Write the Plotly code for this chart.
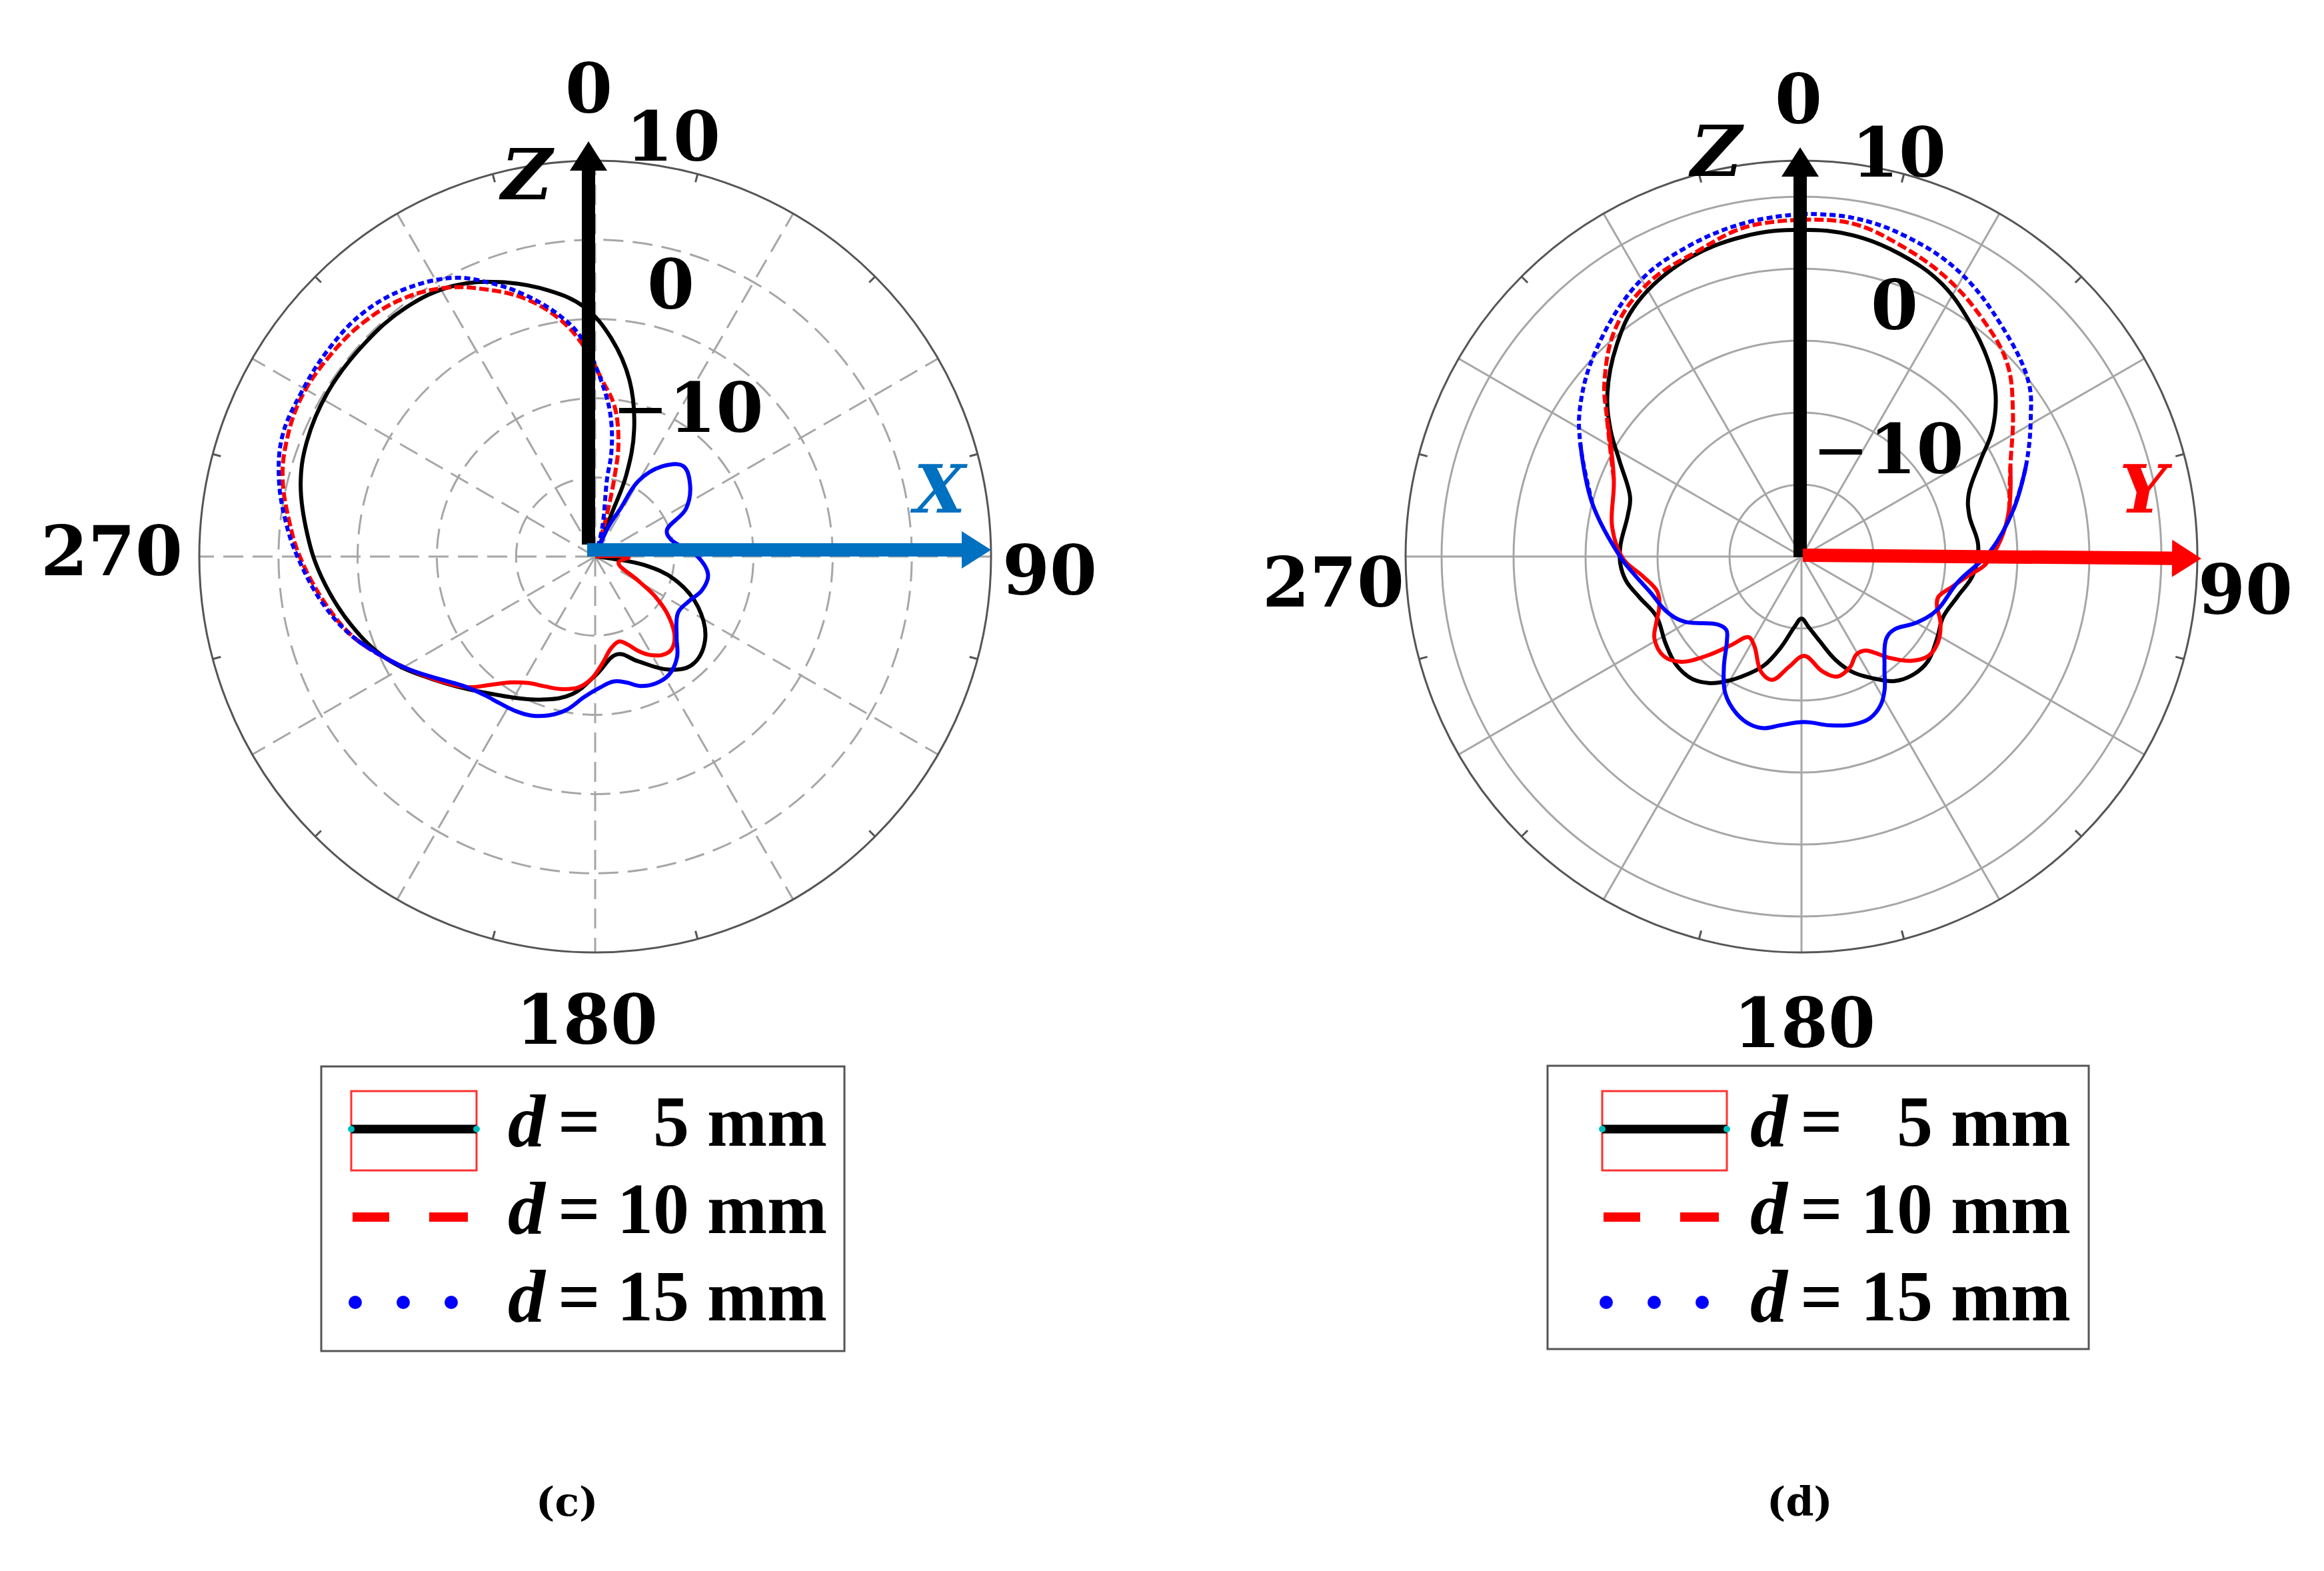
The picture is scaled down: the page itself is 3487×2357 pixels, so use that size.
# Radiation patterns, panels (c) and (d): gain in dB against angle in degrees
import plotly.graph_objects as go

W, H = 3487, 2357
PAGE_MARGIN = 8  # the page body pushes the figure in by this much

# panel (c), XZ plane
c_black_theta = [15, 21, 20.9, 17, 11, 4.2, 357.5, 350.1, 341, 332.3, 322.7, 312.5, 301.5, 291.7, 283.8, 274.6,
                 265.9, 254.3, 243.8, 232.4, 219.6, 200.2, 189.4, 179.4, 167.3, 157.7, 147.1, 138.2, 127.3, 116,
                 106, 99.9, 97.3, 95]
c_black_db = [-23.3, -19.6, -16.0, -12.1, -8.2, -4.9, -2.3, -0.6, 1.1, 2.4, 3.0, 3.1, 3.1, 2.8, 2.2, 1.0,
              -0.2, -2.0, -3.8, -6.3, -8.5, -10.5, -11.6, -13.4, -14.9, -13.8, -12.0, -11.1, -11.7, -13.7,
              -16.4, -19.1, -21.7, -23.3]
c_red_theta = [90, 91, 104.8, 119.2, 123.8, 129.3, 135.4, 140.9, 145.7, 151.3, 155.5, 160.1, 164.3, 170.1, 176.2,
               181.9, 187.5, 194.8, 201.4, 207.7, 213.7, 219.6, 224.6, 239.6, 250.6, 259.4, 269.8, 276.6, 284.1,
               290.4, 298.2, 306.4, 315.3, 323.7, 331.2, 337.2, 344.7, 351.7, 357.1, 2.3, 7.2, 11.5, 13.7, 15.9, 17]
c_red_db = [-23.3, -20.5, -21.3, -19.2, -17.2, -15.3, -13.8, -13.2, -13.3, -13.9, -14.6, -15.5, -15.9, -15.5, -14.3,
            -13.0, -12.2, -11.8, -11.6, -11.3, -10.6, -9.3, -7.9, -4.8, -2.1, -0.4, 1.5, 2.6, 3.8,
            4.4, 4.8, 4.7, 4.4, 3.7, 2.5, 1.1, -0.8, -3.2, -5.7, -8.5, -10.5, -13.5, -16.5, -20.2, -23.3]
c_blue_theta = [22, 24, 27.8, 29.8, 36.5, 44.2, 52.8, 62.3, 69.9, 77.2, 90, 99.2, 107.5, 115.6, 124.1, 134.6, 140.9,
                148, 154.6, 160.9, 166, 171.7, 177.8, 184.3, 190.6, 196.3, 202, 207.2, 212.9, 218.7, 224.6,
                239.6, 250.6, 259.5, 269.8, 276.5, 283.9, 291.2, 299.1, 307.7, 316.4, 324.6, 333, 338.8, 344.9,
                351.8, 356.4, 3.5, 6.9, 8.9, 8.7, 13.7, 15]
c_blue_db = [-23.3, -20.6, -18.8, -16.0, -13.9, -12.7, -13.3, -14.7, -16.9, -16.8, -14.7, -13.7, -13.9, -14.6, -14.9, -13.7, -12.4,
             -11.6, -11.5, -11.8, -12.4, -12.7, -12.3, -11.5, -10.2, -9.4, -8.9, -8.7, -8.6, -8.4, -7.9,
             -4.8, -2.1, -0.2, 1.7, 2.9, 4.1, 4.9, 5.0, 5.1, 5.0, 4.3, 3.0, 1.4, -0.5,
             -2.9, -4.9, -9.5, -12.0, -14.6, -16.7, -20.8, -23.3]

# panel (d), YZ plane
d_black_theta = [0, 9, 18, 27.3, 36.6, 44.2, 50, 56.5, 61.8, 69.5, 76.1, 86.4, 95.9, 104.3, 113, 121.1, 129.6, 136.3,
                 143.2, 149, 156, 161.6, 167.9, 174.4, 180, 185.6, 192.9, 199, 206.4, 212.2, 216.3, 221.9, 229.3,
                 237.5, 247.6, 255.8, 262.1, 267.9, 273.5, 283.4, 289.1, 297.8, 303.5, 310, 318.8, 327.1, 338.6, 350, 360]
d_black_db = [2.7, 2.6, 2.1, 1.3, -0.1, -1.3, -2.4, -4.1, -5.9, -7.6, -8.0, -7.7, -8.0, -8.8, -9.3, -9.0, -8.6, -8.7,
              -9.2, -10.1, -11.2, -12.4, -14.0, -15.1, -15.7, -15.1, -13.5, -12.0, -10.7, -9.7, -9.1, -8.6, -8.5,
              -8.8, -9.1, -8.4, -7.7, -7.4, -7.4, -7.6, -7.4, -5.7, -4.1, -2.4, -0.5, 1.0, 2.1, 2.6, 2.7]
d_red_theta = [0, 8.7, 17.5, 27.7, 37.7, 46.8, 55.6, 66.7, 77.1, 85.1, 92.4, 96.4, 101.2, 106.6, 109.8, 115.5, 122.2,
               128, 133.6, 139.1, 142.7, 145.7, 150.7, 156.4, 163.3, 169.7, 178.4, 186.4, 193.3, 199.2, 208, 213.3,
               218.6, 223.3, 228.8, 234, 240.8, 245.4, 250.3, 256.2, 262.9, 269.3, 278.7, 292.4, 305.5, 311.6, 321.1,
               331, 341.1, 350.2, 360]
d_red_db = [3.4, 3.4, 2.7, 1.8, 0.7, -0.4, -2.2, -4.2, -5.2, -6.1, -7.2, -8.3, -9.3, -10.1, -10.0, -9.3, -8.8,
            -8.8, -9.5, -10.7, -11.6, -12.1, -12.2, -11.6, -11.3, -11.9, -13.1, -12.3, -11.2, -11.5, -13.0, -13.3,
            -12.1, -10.6, -8.9, -8.2, -8.3, -8.9, -9.5, -9.7, -8.9, -7.6, -6.7, -5.9, -3.4, -1.7, 0.5,
            1.8, 2.4, 3.2, 3.4]
d_blue_theta = [0, 8.5, 18, 29.1, 41.1, 52.4, 58.9, 68.1, 77.4, 88.5, 99.3, 111.8, 120, 128.2, 134.1, 143.1, 148, 152,
                157.2, 163.1, 170.2, 179.1, 187, 192.3, 196.9, 202.5, 209, 215, 221.6, 225.6, 231, 240.9, 247.6,
                256.8, 264, 270, 284.3, 297.3, 304.3, 314.9, 328.9, 339.3, 350.3, 360]
d_blue_db = [3.8, 3.8, 3.4, 2.6, 1.2, -0.1, -1.4, -3.2, -4.9, -6.9, -9.0, -9.9, -10.8, -11.8, -11.8, -10.4, -9.1, -8.3,
             -7.8, -7.8, -8.1, -8.5, -8.2, -7.8, -7.8, -8.2, -9.1, -10.6, -12.2, -12.7, -12.5, -10.7, -9.9,
             -9.2, -8.3, -7.4, -5.0, -2.7, -1.4, 0.2, 2.1, 2.9, 3.5, 3.8]

spoke_angles = [0, 30, 60, 90, 120, 150, 180, 210, 240, 270, 300, 330]
tick_angles = [15, 45, 75, 105, 135, 165, 195, 225, 255, 285, 315, 345]
c_rings = [-16.67, -10, -3.33, 3.33]
c_range = [-23.33, 10]
d_rings = [-15, -10, -5, 0, 5]
d_range = [-20, 7.5]
legend_names = ["5 mm", "10 mm", "15 mm"]

SERIF = "Liberation Serif"
WIDE_SERIF = "DejaVu Serif"
BLACK, RED, BLUE = "#000000", "#FF0000", "#0000FF"
LINE = dict(width=6, shape="spline", smoothing=1.1)


def px(x):
    return (x - PAGE_MARGIN) / W


def py(y):
    return 1 - (y - PAGE_MARGIN) / H


fig = go.Figure()


def dash_split(theta, db, start, stop):
    # the upper part of the red and blue curves is drawn dashed, the rest looks solid
    on = [t >= start or t <= stop for t in theta]
    solid, dashed = [], []
    for i, v in enumerate(db):
        near = on[max(i - 1, 0):i + 2]
        solid.append(v if not all(near) else None)
        dashed.append(v if any(near) else None)
    return solid, dashed


def add_curve(sub, theta, db, color, pattern=None, start=0, stop=0):
    if pattern is None:
        fig.add_trace(go.Scatterpolar(theta=theta, r=db, subplot=sub, mode="lines", showlegend=False,
                                      line=dict(color=color, **LINE)))
        return
    solid, dashed = dash_split(theta, db, start, stop)
    fig.add_trace(go.Scatterpolar(theta=theta, r=solid, subplot=sub, mode="lines", showlegend=False,
                                  line=dict(color=color, **LINE)))
    fig.add_trace(go.Scatterpolar(theta=theta, r=dashed, subplot=sub, mode="lines", showlegend=False,
                                  line=dict(color=color, dash=pattern, **LINE)))


def add_outer_ticks(sub, top, length):
    theta, r = [], []
    for a in tick_angles:
        theta += [a, a, None]
        r += [top, top - length, None]
    fig.add_trace(go.Scatterpolar(theta=theta, r=r, subplot=sub, mode="lines", showlegend=False,
                                  line=dict(color="#555555", width=3)))


add_outer_ticks("polar", c_range[1], 0.7)
add_curve("polar", c_black_theta, c_black_db, BLACK)
add_curve("polar", c_red_theta, c_red_db, RED, "14px,5px", 250, 20)
add_curve("polar", c_blue_theta, c_blue_db, BLUE, "9px,5px", 250, 20)

add_outer_ticks("polar2", d_range[1], 0.6)
add_curve("polar2", d_black_theta, d_black_db, BLACK)
add_curve("polar2", d_red_theta, d_red_db, RED, "14px,5px", 300, 70)
add_curve("polar2", d_blue_theta, d_blue_db, BLUE, "9px,5px", 290, 70)


def polar_layout(cx, cy, R, rings, rng, griddash, gridcolor):
    return dict(
        domain=dict(x=[px(cx - R), px(cx + R)], y=[py(cy + R), py(cy - R)]),
        bgcolor="white",
        radialaxis=dict(range=rng, tickvals=rings, showticklabels=False, ticks="", showline=False,
                        gridcolor=gridcolor, gridwidth=3, griddash=griddash),
        angularaxis=dict(rotation=90, direction="clockwise", tickvals=spoke_angles, showticklabels=False,
                         ticks="", showline=True, linecolor="#555555", linewidth=3,
                         gridcolor=gridcolor, gridwidth=3, griddash=griddash),
    )


shapes = []


def arrow(x0, y0, x1, y1, color, shaft=20, head_w=56, head_l=44):
    # shaft plus triangular head, pixel positions of the page
    dx, dy = x1 - x0, y1 - y0
    n = (dx ** 2 + dy ** 2) ** 0.5
    ux, uy = dx / n, dy / n
    nx, ny = -uy, ux
    bx, by = x1 - ux * head_l, y1 - uy * head_l
    pts = [(x0 + nx * shaft / 2, y0 + ny * shaft / 2), (bx + nx * shaft / 2, by + ny * shaft / 2),
           (bx + nx * head_w / 2, by + ny * head_w / 2), (x1, y1),
           (bx - nx * head_w / 2, by - ny * head_w / 2), (bx - nx * shaft / 2, by - ny * shaft / 2),
           (x0 - nx * shaft / 2, y0 - ny * shaft / 2)]
    path = "M" + " L".join(f"{px(a):.5f},{py(b):.5f}" for a, b in pts) + " Z"
    shapes.append(dict(type="path", path=path, xref="paper", yref="paper", fillcolor=color, line=dict(width=0)))


def rect(x0, y0, x1, y1, color, width):
    shapes.append(dict(type="rect", xref="paper", yref="paper", x0=px(x0), x1=px(x1), y0=py(y0), y1=py(y1),
                       line=dict(color=color, width=width), fillcolor="rgba(0,0,0,0)"))


def hline(x0, x1, y, color, width):
    shapes.append(dict(type="line", xref="paper", yref="paper", x0=px(x0), x1=px(x1), y0=py(y), y1=py(y),
                       line=dict(color=color, width=width)))


def dot(x, y, r, color):
    shapes.append(dict(type="circle", xref="paper", yref="paper", x0=px(x - r), x1=px(x + r), y0=py(y + r),
                       y1=py(y - r), line=dict(width=0), fillcolor=color))


annotations = []


def label(text, x, y, size, color=BLACK, anchor="center", family=WIDE_SERIF):
    annotations.append(dict(text=text, x=px(x), y=py(y), xref="paper", yref="paper", showarrow=False,
                            xanchor=anchor, yanchor="middle", font=dict(family=family, size=size, color=color)))


def legend_box(box, sample_x, sample_end, eq_x, d_x, val_x):
    rect(box[0], box[1], box[2], box[3], "#555555", 3)
    rect(sample_x, 1637, sample_end, 1756, "#FF3030", 3)
    hline(sample_x, sample_end, 1694, BLACK, 13)
    dot(sample_x, 1694, 5, "#00BFBF")
    dot(sample_end, 1694, 5, "#00BFBF")
    hline(sample_x + 2, sample_x + 57, 1826, RED, 14)
    hline(sample_x + 117, sample_x + 175, 1826, RED, 14)
    for off in (6, 78, 150):
        dot(sample_x + off, 1954, 10, BLUE)
    for name, y in zip(legend_names, (1682, 1813, 1945)):
        label("<b><i>d</i></b>", d_x, y, 112, anchor="left", family=SERIF)
        label("<b>=</b>", eq_x, y, 112, family=SERIF)
        label(f"<b>{name}</b>", val_x + 2, y, 108, anchor="right", family=SERIF)


arrow(883, 817, 883, 212, BLACK)
arrow(881, 825, 1487, 825, "#0070C0")
arrow(2701, 836, 2701, 221, BLACK)
arrow(2705, 833, 3303, 838, RED)

legend_box((482, 1600, 1267, 2027), 527, 715, 869, 760, 1241)
legend_box((2322, 1599, 3134, 2024), 2404, 2591, 2733, 2624, 3107)

label("<b>0</b>", 883, 133, 102)
label("<b>10</b>", 1010, 205, 102)
label("<b><i>Z</i></b>", 790, 262, 105)
label("<b>0</b>", 1007, 427, 102)
label("−<b>10</b>", 1031, 612, 102)
label("<b><i>X</i></b>", 1408, 734, 100, color="#0070C0")
label("<b>90</b>", 1575, 856, 102)
label("<b>270</b>", 167, 827, 102)
label("<b>180</b>", 881, 1530, 102)
label("<b>(c)</b>", 850, 2253, 60)

label("<b>0</b>", 2698, 149, 102)
label("<b>10</b>", 2849, 229, 102)
label("<b><i>Z</i></b>", 2575, 227, 105)
label("<b>0</b>", 2842, 458, 102)
label("−<b>10</b>", 2832, 674, 102)
label("<b><i>Y</i></b>", 3220, 734, 100, color=RED)
label("<b>90</b>", 3369, 885, 102)
label("<b>270</b>", 2000, 874, 102)
label("<b>180</b>", 2707, 1535, 102)
label("<b>(d)</b>", 2700, 2253, 60)

fig.update_layout(
    width=W,
    height=H,
    margin=dict(l=0, r=0, t=0, b=0),
    paper_bgcolor="white",
    showlegend=False,
    polar=polar_layout(893, 835, 594, c_rings, c_range, "30px,14px", "#A6A6A6"),
    polar2=polar_layout(2703, 835, 594, d_rings, d_range, "solid", "#A6A6A6"),
    shapes=shapes,
    annotations=annotations,
)

fig.write_html("out.html")
